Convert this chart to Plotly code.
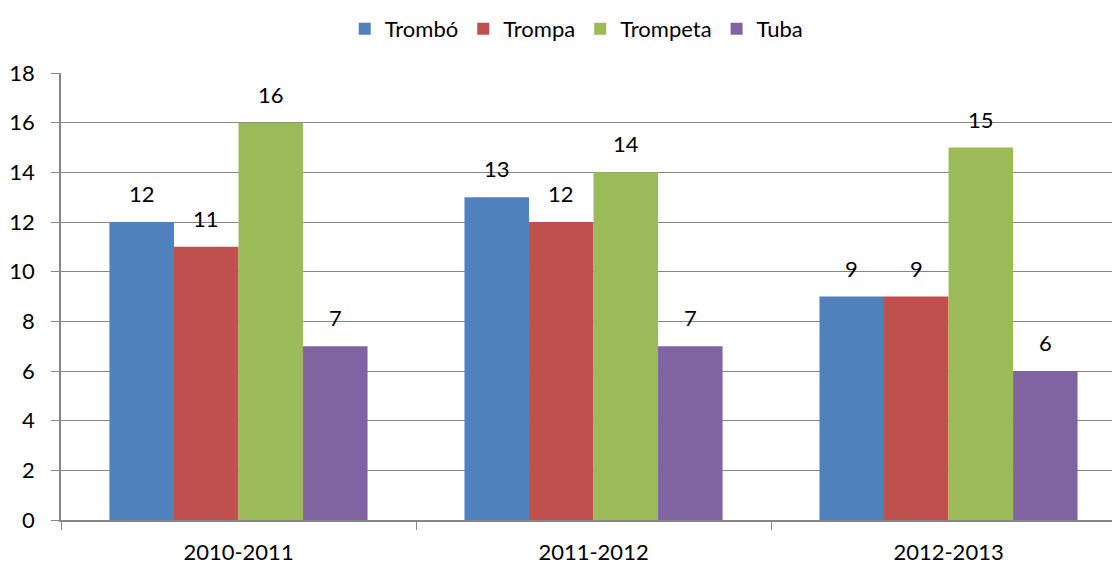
import plotly.graph_objects as go

categories = ["2010-2011", "2011-2012", "2012-2013"]
series_names = ["Trombó", "Trompa", "Trompeta", "Tuba"]
trombo = [12, 13, 9]
trompa = [11, 12, 9]
trompeta = [16, 14, 15]
tuba = [7, 7, 6]
colors = ["#4F81BD", "#C0504D", "#9BBB59", "#8064A2"]

FONT = "Lato, 'Open Sans', sans-serif"
GRID = "#868686"

fig = go.Figure()
all_values = [trombo, trompa, trompeta, tuba]
for name, vals, col in zip(series_names, all_values, colors):
    fig.add_trace(go.Bar(x=categories, y=vals, name=name, marker=dict(color=col, line=dict(width=0))))

# data labels above bars
bar_px = 64.5
for i, vals in enumerate(all_values):
    for cat, v in zip(categories, vals):
        fig.add_annotation(
            x=cat, y=v, text=str(v), showarrow=False,
            xshift=(i - 1.5) * bar_px, yshift=13, yanchor="bottom",
            font=dict(size=22, color="#000000", family=FONT),
        )

fig.update_layout(
    width=1112, height=560,
    barmode="group", bargap=0.273, bargroupgap=0,
    margin=dict(l=53, r=0, t=65, b=48, autoexpand=False),
    plot_bgcolor="white", paper_bgcolor="white",
    font=dict(family=FONT, size=22, color="#000000"),
    legend=dict(orientation="h", x=0.487, xanchor="center", y=1.0, yref="container",
                yanchor="top", font=dict(size=22), itemwidth=30,
                bgcolor="rgba(0,0,0,0)"),
    xaxis=dict(range=[-0.5, 2.483], showline=True, linecolor=GRID, linewidth=1.5,
               ticks="outside", tickson="boundaries", ticklen=8, tickcolor=GRID,
               ticklabelstandoff=12, tickfont=dict(size=22), showgrid=False),
    yaxis=dict(range=[0, 18], dtick=2, showline=True, linecolor=GRID, linewidth=1.5,
               ticks="outside", ticklen=8, tickcolor=GRID, gridcolor=GRID, gridwidth=1,
               ticklabelstandoff=12, zeroline=False, tickfont=dict(size=22)),
)

fig.write_html("out.html")
